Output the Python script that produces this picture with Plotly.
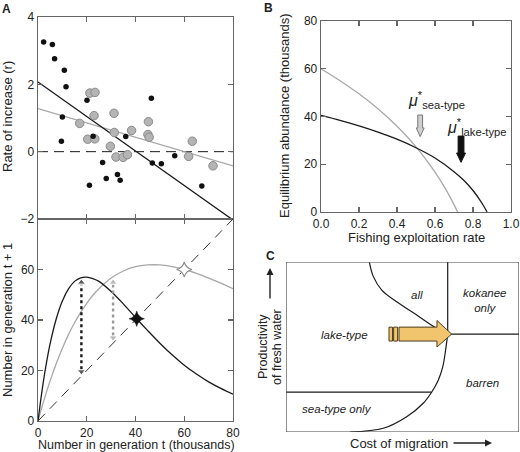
import plotly.graph_objects as go

W, H = 520, 452
def px(x): return x / W
def py(y): return 1 - y / H

# ---------------- data ----------------
# Panel A (top): rate of increase vs abundance
lake_n = [2.3, 5.9, 6.8, 10.8, 11.5, 10.0, 9.6, 20.1, 21.1, 22.6, 26.5, 28.0, 32.6, 33.7, 36.0, 46.5, 46.9, 50.6, 56.1, 67.2]
lake_r = [3.26, 3.18, 2.76, 2.42, 1.93, 1.03, 0.31, 1.53, -1.0, 0.46, -0.32, -0.80, -0.68, -0.85, 0.45, 1.59, -0.34, -0.36, -0.12, -1.02]
sea_n = [17.1, 21.3, 23.4, 23.0, 20.4, 23.3, 31.2, 31.3, 29.7, 32.0, 34.9, 36.7, 38.4, 45.3, 45.1, 45.6, 61.8, 63.3, 71.8]
sea_r = [0.84, 1.74, 1.76, 1.07, 0.37, 0.38, 1.14, 0.57, 0.16, -0.16, -0.17, -0.09, 0.63, 0.89, 0.51, 0.43, -0.14, 0.31, -0.42]
fit_n = [0, 80]
lake_fit_r = [2.07, -2.03]
sea_fit_r = [1.28, -0.42]

# Panel A (bottom): stock-recruitment curves
nt = [0, 1, 2, 3, 5, 7.5, 10, 12.5, 15, 17.5, 20, 22.5, 25, 30, 35, 40, 45, 50, 55, 60, 65, 70, 75, 80]
lake_next = [0, 7.5, 14.3, 20.4, 30.7, 40.5, 47.5, 52.3, 55.3, 56.7, 57.0, 56.4, 55.3, 51.3, 46.4, 41.0, 35.8, 30.8, 26.2, 22.1, 18.6, 15.5, 12.9, 10.6]
sea_next = [0, 3.5, 6.8, 10.0, 16.0, 22.8, 28.8, 34.2, 38.9, 43.0, 46.6, 49.8, 52.4, 56.6, 59.4, 61.1, 61.8, 61.8, 61.1, 60.0, 58.5, 56.6, 54.6, 52.4]
replace_line = [0, 80]
lake_eq = 40.5
sea_eq = 60.0
arrow_x = [17.8, 30.8]
arrow_hi = [56.5, 56.5]
arrow_lo = [18.0, 31.4]

# Panel B: equilibrium abundance vs exploitation rate
mu_lake = [0, 0.1, 0.2, 0.3, 0.4, 0.5, 0.6, 0.7, 0.75, 0.8, 0.84, 0.86, 0.874]
eq_lake = [40.5, 38.4, 36.1, 33.5, 30.5, 26.9, 22.6, 16.9, 13.4, 9.0, 4.6, 2.0, 0]
mu_sea = [0, 0.1, 0.2, 0.3, 0.4, 0.5, 0.6, 0.65, 0.7, 0.719]
eq_sea = [60, 55.0, 49.5, 43.2, 35.9, 27.3, 16.7, 10.4, 3.1, 0]
mu_star_sea = 0.522
mu_star_lake = 0.737

# Panel C: schematic boundaries (0-100 units)
upper_x = [35.8, 37.5, 41.1, 47.5, 56.1, 63.9, 69.4]
upper_y = [99.8, 91.4, 83.5, 76.6, 68.8, 61.6, 57.6]
lower_x = [27.5, 41.8, 51.8, 58.9, 62.5, 65.4, 67.3, 68.5, 69.4]
lower_y = [0, 2.2, 9.0, 16.9, 23.4, 30.6, 38.4, 48.2, 57.6]
junction = (69.4, 57.6)
sea_boundary_y = 23.4

# ---------------- figure ----------------
FONT = "Liberation Sans, Arial, Helvetica, sans-serif"
BLACK = "#1a1a1a"
GRAY = "#a8a8a8"
FRAME = "#666666"

fig = go.Figure()

# A top
fig.add_trace(go.Scatter(x=[0, 80], y=[0, 0], mode="lines", line=dict(color=BLACK, width=1, dash="10px,6px"),
                         xaxis="x", yaxis="y", showlegend=False))
fig.add_trace(go.Scatter(x=fit_n, y=sea_fit_r, mode="lines", line=dict(color=GRAY, width=1.3),
                         xaxis="x", yaxis="y", showlegend=False))
fig.add_trace(go.Scatter(x=fit_n, y=lake_fit_r, mode="lines", line=dict(color=BLACK, width=1.3),
                         xaxis="x", yaxis="y", showlegend=False))
fig.add_trace(go.Scatter(x=sea_n, y=sea_r, mode="markers",
                         marker=dict(size=8.5, color="#b4b4b4", line=dict(color="#8a8a8a", width=1)),
                         xaxis="x", yaxis="y", showlegend=False))
fig.add_trace(go.Scatter(x=lake_n, y=lake_r, mode="markers",
                         marker=dict(size=5.5, color="#111111"),
                         xaxis="x", yaxis="y", showlegend=False))

# A bottom
fig.add_trace(go.Scatter(x=replace_line, y=replace_line, mode="lines",
                         line=dict(color="#333", width=1, dash="10px,7px"),
                         xaxis="x2", yaxis="y2", showlegend=False))
fig.add_trace(go.Scatter(x=nt, y=sea_next, mode="lines", line=dict(color=GRAY, width=1.3, shape="spline"),
                         xaxis="x2", yaxis="y2", showlegend=False))
fig.add_trace(go.Scatter(x=nt, y=lake_next, mode="lines", line=dict(color=BLACK, width=1.3, shape="spline"),
                         xaxis="x2", yaxis="y2", showlegend=False))
arrow_cols = [BLACK, "#9a9a9a"]
for xa, hi, lo, c in zip(arrow_x, arrow_hi, arrow_lo, arrow_cols):
    fig.add_trace(go.Scatter(x=[xa, xa], y=[lo + 2.5, hi - 2.5], mode="lines",
                             line=dict(color=c, width=2.4, dash="dot"),
                             xaxis="x2", yaxis="y2", showlegend=False))
    fig.add_trace(go.Scatter(x=[xa, xa], y=[hi - 1.6, lo + 1.6], mode="markers",
                             marker=dict(symbol=["triangle-up", "triangle-down"], size=[7, 7], color=c),
                             xaxis="x2", yaxis="y2", showlegend=False))
fig.add_trace(go.Scatter(x=[sea_eq], y=[sea_eq], mode="markers",
                         marker=dict(symbol="star-diamond", size=11, color="white", line=dict(color="#8a8a8a", width=1.2)),
                         xaxis="x2", yaxis="y2", showlegend=False))
fig.add_trace(go.Scatter(x=[lake_eq], y=[lake_eq], mode="markers",
                         marker=dict(symbol="star-diamond", size=11, color="#111", line=dict(color="#111", width=0.5)),
                         xaxis="x2", yaxis="y2", showlegend=False))

# B
fig.add_trace(go.Scatter(x=mu_sea, y=eq_sea, mode="lines", line=dict(color=GRAY, width=1.3, shape="spline"),
                         xaxis="x3", yaxis="y3", showlegend=False))
fig.add_trace(go.Scatter(x=mu_lake, y=eq_lake, mode="lines", line=dict(color=BLACK, width=1.3, shape="spline"),
                         xaxis="x3", yaxis="y3", showlegend=False))

# C
fig.add_trace(go.Scatter(x=upper_x, y=upper_y, mode="lines", line=dict(color=BLACK, width=1.2, shape="spline"),
                         xaxis="x4", yaxis="y4", showlegend=False))
fig.add_trace(go.Scatter(x=lower_x, y=lower_y, mode="lines", line=dict(color=BLACK, width=1.2, shape="spline"),
                         xaxis="x4", yaxis="y4", showlegend=False))
fig.add_trace(go.Scatter(x=[junction[0], junction[0], None, junction[0], 100, None, 0, lower_x[4]],
                         y=[100, junction[1], None, junction[1], junction[1], None, sea_boundary_y, sea_boundary_y],
                         mode="lines", line=dict(color=BLACK, width=1.2),
                         xaxis="x4", yaxis="y4", showlegend=False))

axis_common = dict(showline=True, linecolor=FRAME, linewidth=1.3, mirror="allticks", ticks="inside",
                   ticklen=5, tickwidth=1.2, tickcolor=FRAME, showgrid=False, zeroline=False,
                   automargin=False, tickfont=dict(family=FONT, size=12, color="#222"))

fig.update_layout(
    width=W, height=H, autosize=False, margin=dict(l=0, r=0, t=0, b=0, autoexpand=False),
    paper_bgcolor="white", plot_bgcolor="white", font=dict(family=FONT, color="#222"),
    hovermode=False,
    xaxis=dict(domain=[px(38), px(233)], range=[0, 80], tickvals=[20, 40, 60], showticklabels=False,
               anchor="y", **axis_common),
    yaxis=dict(domain=[py(219), py(17)], range=[-2, 4], tickvals=[-2, 0, 2, 4], anchor="x", **axis_common),
    xaxis2=dict(domain=[px(38), px(233)], range=[0, 80], tickvals=[0, 20, 40, 60, 80], anchor="y2", **axis_common),
    yaxis2=dict(domain=[py(421), py(219)], range=[0, 80], tickvals=[0, 20, 40, 60], anchor="x2", **axis_common),
    xaxis3=dict(domain=[px(321), px(511)], range=[0, 1], tickvals=[0, 0.2, 0.4, 0.6, 0.8, 1.0],
                ticktext=["0.0", "0.2", "0.4", "0.6", "0.8", "1.0"], anchor="y3", **axis_common),
    yaxis3=dict(domain=[py(212), py(21)], range=[0, 80], tickvals=[0, 20, 40, 60, 80], anchor="x3", **axis_common),
    xaxis4=dict(domain=[px(286), px(519)], range=[0, 100], visible=False, anchor="y4", automargin=False),
    yaxis4=dict(domain=[py(432), py(262)], range=[0, 100], visible=False, anchor="x4", automargin=False),
)

shapes = []
# C box
shapes.append(dict(type="rect", xref="x4", yref="y4", x0=0, x1=100, y0=0, y1=100,
                   line=dict(color="#444", width=1.2)))

def v_arrow(xc, ytop, ybase, ytip, sw, hw, fill, line, xr, yr):
    p = (f"M {xc-sw},{ytop} L {xc+sw},{ytop} L {xc+sw},{ybase} L {xc+hw},{ybase} "
         f"L {xc},{ytip} L {xc-hw},{ybase} L {xc-sw},{ybase} Z")
    return dict(type="path", path=p, xref=xr, yref=yr, fillcolor=fill, line=dict(color=line, width=1))

shapes.append(v_arrow(mu_star_sea, 40.6, 35.2, 31.6, 0.0127, 0.021, "#cfcfcf", "#777", "x3", "y3"))
shapes.append(v_arrow(mu_star_lake, 31.8, 24.7, 20.8, 0.0153, 0.0235, "#111", "#111", "x3", "y3"))

# C orange arrow
ORANGE = "#F1C46E"
OUT = "#4a3b20"
jy = junction[1]
shapes.append(dict(type="path", xref="x4", yref="y4",
                   path=(f"M 48.5,{jy-4.1} L 64.8,{jy-4.1} L 64.8,{jy-7.6} L 71.1,{jy} L 64.8,{jy+8.0} "
                         f"L 64.8,{jy+4.1} L 48.5,{jy+4.1} Z"),
                   fillcolor=ORANGE, line=dict(color=OUT, width=1)))
for x0, x1 in [(44.2, 45.7), (46.2, 47.9)]:
    shapes.append(dict(type="rect", xref="x4", yref="y4", x0=x0, x1=x1, y0=jy - 4.1, y1=jy + 4.1,
                       fillcolor=ORANGE, line=dict(color=OUT, width=1)))
fig.update_layout(shapes=shapes)

ann = []
def text(x, y, s, size=13, rot=0, xanchor="center", yanchor="middle", color="#222", ref="paper"):
    ann.append(dict(x=x, y=y, xref=ref, yref=ref, text=s, showarrow=False, textangle=rot,
                    xanchor=xanchor, yanchor=yanchor, font=dict(family=FONT, size=size, color=color)))

# panel letters
text(px(6), py(9), "<b>A</b>", size=12)
text(px(268), py(8), "<b>B</b>", size=12)
text(px(270), py(256), "<b>C</b>", size=12)

# axis titles
text(px(7), py(117), "Rate of increase (r)", rot=-90)
text(px(7), py(320), "Number in generation t + 1", rot=-90)
text(px(136), py(445), "Number in generation t (thousands)", size=12.5)
text(px(285), py(116), "Equilibrium abundance (thousands)", rot=-90)
text(px(416), py(237), "Fishing exploitation rate")

# mu labels
text(px(406), py(100), "<i>μ</i><sup>*</sup><sub>sea-type</sub>", size=16, xanchor="left")
text(px(445), py(127), "<i>μ</i><sup>*</sup><sub>lake-type</sub>", size=16, xanchor="left")

# panel C texts
for (xx, yy, s) in [(56.2, 80.6, "all"), (85, 77.6, "kokanee<br>only"), (24.9, 57.1, "lake-type"),
                    (84.5, 28.8, "barren"), (21.9, 13.5, "sea-type only")]:
    ann.append(dict(x=xx, y=yy, xref="x4", yref="y4", text=f"<i>{s}</i>", showarrow=False,
                    font=dict(family=FONT, size=11.5, color="#222")))

text(px(263), py(347), "Productivity", rot=-90, size=12.5)
text(px(277), py(347), "of fresh water", rot=-90, size=12.5)
text(px(399), py(443), "Cost of migration", size=13)
ann.append(dict(x=px(492), y=py(443), xref="paper", yref="paper", ax=-40, ay=0, text="",
                showarrow=True, arrowhead=2, arrowsize=1, arrowwidth=1.4, arrowcolor="#222"))
ann.append(dict(x=px(270), y=py(268), xref="paper", yref="paper", ax=0, ay=32, text="",
                showarrow=True, arrowhead=2, arrowsize=1, arrowwidth=1.4, arrowcolor="#222"))

fig.update_layout(annotations=ann)
# remove the browser's default 8px page margin so the figure fills the window exactly
fig.write_html("out.html", config={"displayModeBar": False, "staticPlot": True},
               post_script="document.body.style.margin='0px'; document.body.style.overflow='hidden';")
